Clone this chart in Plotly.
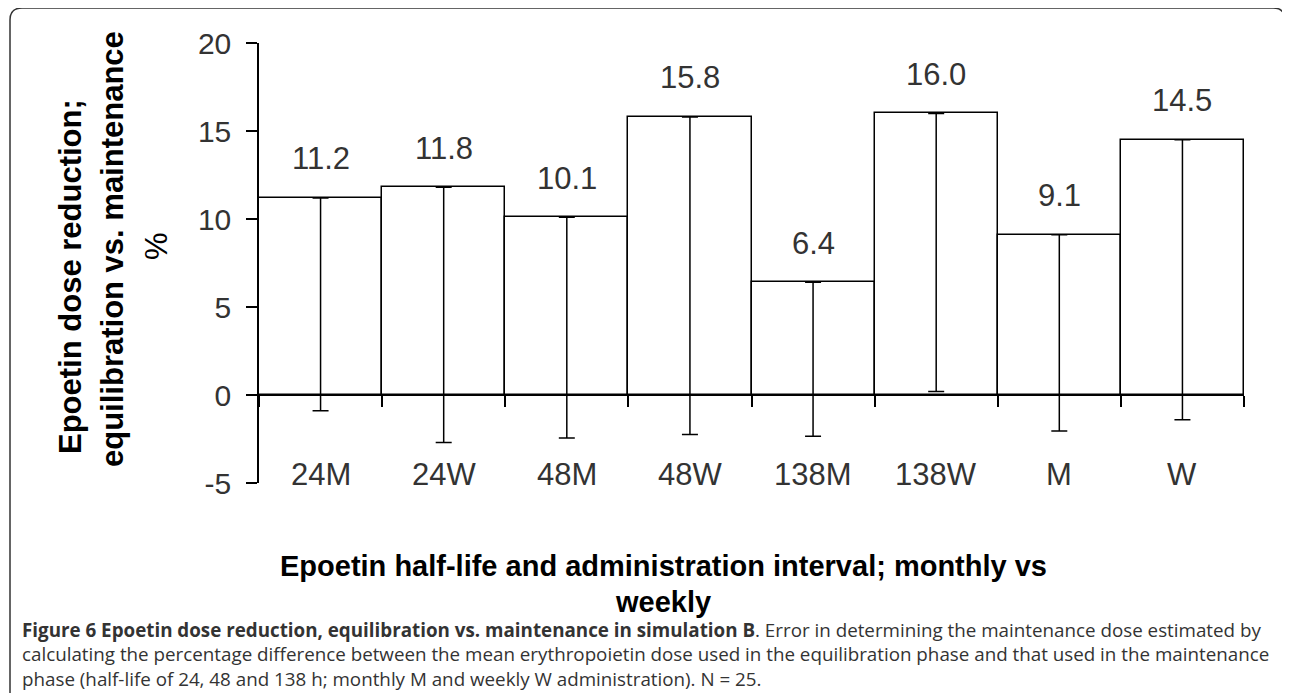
import plotly.graph_objects as go

categories = ["24M", "24W", "48M", "48W", "138M", "138W", "M", "W"]
values = [11.2, 11.8, 10.1, 15.8, 6.4, 16.0, 9.1, 14.5]
lower = [-0.9, -2.7, -2.45, -2.25, -2.35, 0.2, -2.05, -1.4]
value_labels = ["11.2", "11.8", "10.1", "15.8", "6.4", "16.0", "9.1", "14.5"]
y_ticks = [-5, 0, 5, 10, 15, 20]

# page body has an 8px margin, so the figure is drawn 8px right/down
OFF = 8
W, H = 1282, 685
# plot area in reference (window) pixels
PX0, PX1, PY0, PY1 = 259, 1244, 43, 483
L, T = PX0 - OFF, PY0 - OFF
R, B = W - (PX1 - OFF), H - (PY1 - OFF)
pw, ph = PX1 - PX0, PY1 - PY0

def px(x):
    return (x - PX0) / pw

def py(y):
    return (PY1 - y) / ph

FONT = "Liberation Sans, Arial"

fig = go.Figure()
fig.add_trace(go.Bar(
    x=categories, y=values,
    marker=dict(color="white", line=dict(color="black", width=1.5)),
    error_y=dict(type="data", symmetric=False,
                 array=[0] * len(values),
                 arrayminus=[v - l for v, l in zip(values, lower)],
                 color="black", thickness=1.5, width=8),
    showlegend=False, hoverinfo="skip",
))

ann = []
for c, v, t in zip(categories, values, value_labels):
    ann.append(dict(x=c, y=v, xref="x", yref="y", text=t, showarrow=False,
                    yanchor="middle", yshift=39,
                    font=dict(family=FONT, size=31, color="#333")))
for c in categories:
    ann.append(dict(x=c, y=-5, xref="x", yref="y", text=c, showarrow=False,
                    yanchor="middle", yshift=9,
                    font=dict(family=FONT, size=31, color="#333")))

# y-axis title (three lines)
ytitle = [("<b>Epoetin dose reduction;</b>", 70, 277),
          ("<b>equilibration vs. maintenance</b>", 113, 249),
          ("%", 157, 246)]
for txt, xp, yp in ytitle:
    ann.append(dict(x=px(xp), y=py(yp), xref="paper", yref="paper", text=txt,
                    showarrow=False, textangle=-90, xanchor="center", yanchor="middle",
                    font=dict(family=FONT, size=31, color="black")))

# x-axis title
ann.append(dict(x=px(663), y=py(566), xref="paper", yref="paper",
                text="<b>Epoetin half-life and administration interval; monthly vs</b>",
                showarrow=False, xanchor="center", yanchor="middle",
                font=dict(family=FONT, size=29, color="black")))
ann.append(dict(x=px(663), y=py(602), xref="paper", yref="paper",
                text="<b>weekly</b>",
                showarrow=False, xanchor="center", yanchor="middle",
                font=dict(family=FONT, size=29, color="black")))

caption = [
    "<b>Figure 6 Epoetin dose reduction, equilibration vs. maintenance in simulation B</b>. Error in determining the maintenance dose estimated by",
    "calculating the percentage difference between the mean erythropoietin dose used in the equilibration phase and that used in the maintenance",
    "phase (half-life of 24, 48 and 138 h; monthly M and weekly W administration). N = 25.",
]
ann.append(dict(x=px(20), y=py(654), xref="paper", yref="paper",
                text="<br>".join(caption), showarrow=False, xanchor="left", yanchor="middle",
                align="left",
                font=dict(family="Open Sans", size=18.8, color="#333")))

# outer rounded frame
r = 12
x0, x1, y0, y1 = 10, 1285, 8, 720
path = (f"M {px(x0)},{py(y1)} L {px(x0)},{py(y0 + r)} "
        f"Q {px(x0)},{py(y0)} {px(x0 + r)},{py(y0)} "
        f"L {px(x1 - r)},{py(y0)} Q {px(x1)},{py(y0)} {px(x1)},{py(y0 + r)} "
        f"L {px(x1)},{py(y1)}")
shapes = [dict(type="path", xref="paper", yref="paper", path=path,
               line=dict(color="#333", width=1.5))]

fig.update_layout(
    width=W, height=H,
    margin=dict(l=L, r=R, t=T, b=B),
    paper_bgcolor="white", plot_bgcolor="white",
    bargap=0,
    annotations=ann, shapes=shapes,
    xaxis=dict(type="category", range=[-0.5, 7.5], anchor="free", position=0.2,
               showline=True, linecolor="black", linewidth=1.5,
               ticks="outside", tickson="boundaries", ticklen=11,
               tickcolor="black", tickwidth=1.5,
               showticklabels=False, showgrid=False, zeroline=False, fixedrange=True),
    yaxis=dict(range=[-5, 20], tickvals=y_ticks, ticktext=[str(v) for v in y_ticks],
               showline=True, linecolor="black", linewidth=1.5,
               ticks="outside", ticklen=11, tickcolor="black", tickwidth=1.5,
               ticklabelstandoff=9,
               tickfont=dict(family=FONT, size=30, color="#333"),
               showgrid=False, zeroline=False, fixedrange=True),
)

fig.write_html("out.html")
